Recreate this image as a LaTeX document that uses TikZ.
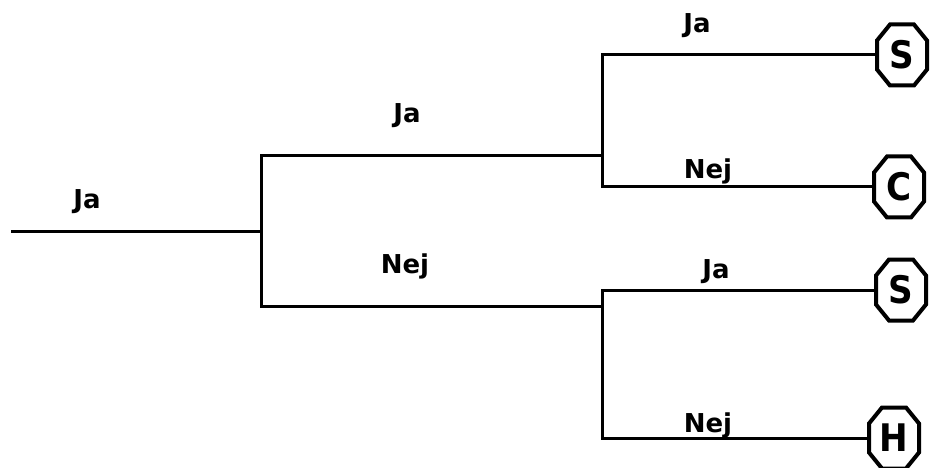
\documentclass[tikz,border=0pt]{standalone}
\usepackage{fontspec}
\setmainfont{DejaVu Sans}
\newfontfamily\condfont{DejaVu Sans Condensed}
\begin{document}
\begin{tikzpicture}[x=1pt,y=-1pt,
  branch/.style={line width=3pt,line cap=rect},
  lbl/.style={anchor=base,inner sep=0pt,font=\fontsize{26}{30}\selectfont\bfseries},
  octa/.style={rectangle,minimum width=50pt,minimum height=61pt,inner sep=0pt,outer sep=0pt,
    font=\condfont\fontsize{38}{42}\selectfont\bfseries},
  octline/.style={line width=4pt,line join=miter}]
\useasboundingbox (0,0) rectangle (930,468);
% junction coordinates
\coordinate (r0) at (12,232);
\coordinate (j1) at (261,232);
\coordinate (j2) at (602,156);
\coordinate (j3) at (602,306);
% end nodes
\node[octa] (s1) at (902,55) {S};
\node[octa] (c1) at (899,187) {C};
\node[octa] (s2) at (901,290) {S};
\node[octa] (h1) at (894,438) {H};
\foreach \n in {s1,c1,s2,h1}{
  \draw[octline] ([xshift=13pt]\n.north west) -- ([xshift=-13pt]\n.north east)
    -- ([yshift=-16pt]\n.north east) -- ([yshift=16pt]\n.south east)
    -- ([xshift=-13pt]\n.south east) -- ([xshift=13pt]\n.south west)
    -- ([yshift=16pt]\n.south west) -- ([yshift=-16pt]\n.north west) -- cycle;
}
% connectors
\draw[branch] (r0) -- (j1);
\draw[branch] (j1) |- (j2);
\draw[branch] (j1) |- (j3);
\draw[branch] (j2) |- (s1.west);
\draw[branch] (j2) |- (c1.west);
\draw[branch] (j3) |- (s2.west);
\draw[branch] (j3) |- (h1.west);
% labels
\node[lbl] (l0) at (87,209) {Ja};
\node[lbl] (l1) at (407,123) {Ja};
\node[lbl] (l2) at (405,273) {Nej};
\node[lbl] (l3) at (697,33) {Ja};
\node[lbl] (l4) at (708,179) {Nej};
\node[lbl] (l5) at (716,279) {Ja};
\node[lbl] (l6) at (708,432) {Nej};
\end{tikzpicture}
\end{document}
